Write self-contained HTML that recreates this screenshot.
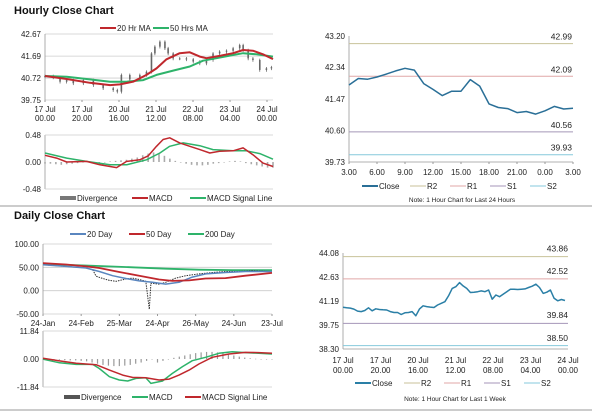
<!DOCTYPE html>
<html><head><meta charset="utf-8"><style>
body{margin:0;background:#fff;width:600px;height:413px;overflow:hidden}
svg{font-family:"Liberation Sans",sans-serif}
</style></head><body>
<svg id="s" width="600" height="413" viewBox="0 0 600 413" xmlns="http://www.w3.org/2000/svg">
<text x="14" y="14" font-size="11" font-weight="bold" fill="#111">Hourly Close Chart</text>
<text x="14" y="219" font-size="11" font-weight="bold" fill="#111">Daily Close Chart</text>
<line x1="0" y1="206" x2="592" y2="206" stroke="#999" stroke-width="1"/>
<line x1="0" y1="410" x2="592" y2="410" stroke="#999" stroke-width="1"/>
</svg>
<script>
// ---------- DATA ----------
const hcT=[0,3.6,6.6,9.5,12.4,16.8,21.2,25.5,29.9,31.7,33.5,37.2,41.6,44.5,46.7,48.2,50.4,52.6,54.0,56.2,59.1,62.0,65.0,67.9,70.8,73.7,76.6,79.6,82.5,85.4,86.9,89.1,91.2,94.2,97.1,99.3];
const hcV=[40.81,40.75,40.56,40.63,40.49,40.63,40.41,40.27,40.19,40.12,40.86,40.66,40.86,41.0,41.81,42.11,42.33,42.04,41.81,41.59,41.59,41.55,41.45,41.37,41.52,41.81,41.89,41.93,42.04,42.18,41.96,41.59,41.52,41.08,41.15,41.2];
const ma20T=[0,9.5,19.7,28.5,32.8,38.7,44.5,48.9,53.3,59.1,63.5,67.9,70.8,76.6,82.5,86.9,91.2,95.6,100];
const ma20V=[40.81,40.68,40.51,40.41,40.44,40.56,40.86,41.15,41.55,41.82,41.86,41.67,41.6,41.7,41.82,41.96,41.93,41.77,41.56];
const ma50T=[0,9.5,19.7,28.5,35.8,43.1,48.9,56.2,63.5,69.3,75.2,82.5,86.9,92.7,100];
const ma50V=[40.81,40.78,40.66,40.56,40.56,40.63,40.86,41.05,41.23,41.49,41.6,41.74,41.82,41.77,41.67];
const hmT=[0,5.1,9.5,18.2,24.1,31.4,35.8,41.6,45.3,48.9,51.8,54.7,59.1,63.5,67.9,72.3,76.6,82.5,86.9,91.2,95.6,100];
const hmV=[0.12,0.07,0.0,0.01,-0.05,-0.1,0.01,0.04,0.11,0.28,0.40,0.43,0.34,0.28,0.22,0.16,0.19,0.20,0.25,0.13,-0.02,-0.08];
const hsT=[0,9.5,18.2,28.5,35.8,44.5,50.4,54.7,60.6,67.9,73.7,82.5,88.3,94.2,100];
const hsV=[0.16,0.07,0.01,-0.05,-0.05,0.04,0.16,0.28,0.34,0.29,0.22,0.20,0.20,0.15,0.05];
const hDiv=[-0.03,-0.03,-0.04,-0.05,-0.04,-0.03,-0.02,-0.01,0,0,-0.01,0,0.01,0.02,0.03,0.04,0.06,0.08,0.12,0.15,0.17,0.15,0.11,0.06,0.02,-0.01,-0.03,-0.05,-0.06,-0.06,-0.05,-0.03,-0.02,0,0.01,0.02,0.01,-0.02,-0.04,-0.06,-0.08,-0.1,-0.1];
const dayLabels=["3.00","6.00","9.00","12.00","15.00","18.00","21.00","0.00","3.00"];
const closeV=[41.85,42.03,42.01,42.07,42.15,42.24,42.31,42.26,41.89,41.73,41.56,41.68,41.68,42.0,41.82,41.33,41.23,41.2,41.09,41.12,41.05,41.14,41.26,41.19,41.21];
const lvl24=[42.99,42.09,40.56,39.93];
const wkV=[40.81,40.78,40.76,40.7,40.58,40.55,40.62,40.78,40.6,40.72,40.68,40.66,40.65,40.55,40.5,40.5,40.38,40.48,40.5,40.55,40.3,40.7,40.9,40.85,40.82,40.8,40.95,41.05,41.15,41.5,41.95,42.05,42.3,42.1,41.95,41.7,41.72,41.75,41.8,41.75,41.85,41.3,41.55,41.45,41.6,41.75,41.9,41.9,41.88,41.9,41.92,42.0,42.08,42.2,42.0,41.65,41.72,41.85,41.35,41.2,41.28,41.22];
const lvlWk=[43.86,42.52,39.84,38.50];
const dcT=[0,10.1,18.8,21.7,23.2,26.1,29,31.9,36.2,39.1,42,44.9,46.4,47.1,50.7,53.6,58,62.3,68.1,73.9,79.7,85.5,91.3,98.6];
const dcV=[55.7,52,48.6,45,31,26,22,20,25,27,24,20,-40,16,14,18,27,32,36,39,41,41,43,41];
const d20T=[0,10.1,18.8,24.6,30.4,36.2,42,47.8,53.6,59.4,65.2,71,79.7,88.4,100];
const d20V=[55.7,52,48.6,41,32,26,21,18,14,18,29,36,39,41,41];
const d50T=[0,10.1,18.8,24.6,33.3,42,50.7,56.5,63.8,71,79.7,88.4,100];
const d50V=[59,56,52,48.6,40,32,24,21,22,26,27,32,38];
const d200T=[0,18.8,39.1,53.6,68.1,82.6,100];
const d200V=[57,54,50,47,45,44,44];
const dmT=[0,7.2,14.5,21.7,24.6,29,33.3,37,40.6,44.9,47.1,52.2,56.5,60.9,65.2,71,76.8,82.6,88.4,94.2,100];
const dmV=[-0.1,-1.6,-2.3,-2.3,-4,-7.5,-8.9,-9.3,-8.2,-7.9,-10.3,-9.3,-6.1,-3.2,-0.7,0.7,2.4,3.1,2.7,2.4,2.1];
const dsT=[0,7.2,14.5,23.2,29,34.8,39.1,44.9,50.7,55.1,59.4,63.8,68.1,73.9,81.2,88.4,94.2,100];
const dsV=[0.3,-0.8,-1.8,-2.4,-4.7,-6.8,-7.8,-7.9,-8.9,-8.5,-6.8,-4.7,-2.1,0.7,2.1,2.8,2.7,2.4];
const dDiv=[0,0,0,-0.3,-0.5,-0.6,-0.6,-0.8,-1,-1.5,-2,-2.5,-2.8,-3,-3,-2.8,-2.5,-2,-1.5,-0.8,0,-1.5,-0.8,0,0.5,1,1.5,2,2.5,2.8,3,3,2.8,2.5,2,1.5,1,0.6,0.3,0.1,0,0,0];

// ---------- DRAW ----------
const S=document.getElementById('s'),NS='http://www.w3.org/2000/svg';
function el(tag,a,parent){const e=document.createElementNS(NS,tag);for(const k in a)e.setAttribute(k,a[k]);(parent||S).appendChild(e);return e;}
function txt(x,y,s,a){const e=el('text',Object.assign({x:x,y:y,'font-size':8,fill:'#222'},a||{}));e.textContent=s;return e;}
function mkY(v0,y0,v1,y1){return v=>y0+(v-v0)*(y1-y0)/(v1-v0);}
function mkX(x0,x1){return t=>x0+t*(x1-x0)/100;}
function poly(T,V,X,Y,col,w,name,dash){const p=el('polyline',{points:T.map((t,i)=>X(t).toFixed(1)+','+Y(V[i]).toFixed(1)).join(' '),fill:'none',stroke:col,'stroke-width':w,'stroke-linejoin':'round'});if(dash)p.setAttribute('stroke-dasharray',dash);

return p;}
function yAxis(ticks,fmt,X0,X1,Y,grid,name){ticks.forEach(v=>{if(grid){const g=el('line',{x1:X0,x2:X1,y1:Y(v),y2:Y(v),stroke:'#ccc','stroke-width':0.8});

}
const t=txt(X0-4,Y(v)+3,fmt(v),{'text-anchor':'end'});

});
const a=el('line',{x1:X0,x2:X0,y1:Y(ticks[0]),y2:Y(ticks[ticks.length-1]),stroke:'#999','stroke-width':0.8});

}
function legend(items,y,name){items.forEach(it=>{el('line',{x1:it[0],x2:it[0]+16,y1:y-3,y2:y-3,stroke:it[2],'stroke-width':it[3]||2});const t=txt(it[0]+17,y,it[1],{'font-size':8});

});}
function bars(D,X,Y,col,w,name){D.forEach((d,i)=>{const t=i*100/(D.length-1);const y0=Y(0),y1=Y(d);const r=el('rect',{x:X(t)-w/2,y:Math.min(y0,y1),width:w,height:Math.max(0.5,Math.abs(y1-y0)),fill:col});

});}

// Panel 1
(function(){const X=mkX(45,273),Y=mkY(42.67,34,39.75,100);
legend([[100,'20 Hr MA','#c0282d'],[153,'50 Hrs MA','#2eb36a']],31,'hourly-legend-entry');
yAxis([42.67,41.69,40.72,39.75],v=>v.toFixed(2),45,273,Y,true,'hourly-price');
const xl=[['17 Jul','00.00'],['17 Jul','20.00'],['20 Jul','16.00'],['21 Jul','12.00'],['22 Jul','08.00'],['23 Jul','04.00'],['24 Jul','00.00']];
xl.forEach((l,i)=>{const x=45+i*(267-45)/6;el('line',{x1:x,x2:x,y1:100,y2:102,stroke:'#999'});const a=txt(x,112,l[0],{'text-anchor':'middle'});


const b=txt(x,121,l[1],{'text-anchor':'middle'});

});
hcV.forEach((v,i)=>{const x=X(hcT[i]);const prev=i?hcV[i-1]:v;const hi=Math.max(v,prev)+0.06,lo=Math.min(v,prev)-0.08;
const c=el('line',{x1:x,x2:x,y1:Y(hi),y2:Y(lo),stroke:'#555','stroke-width':0.7});


const b=el('rect',{x:x-0.8,y:Math.min(Y(v),Y(prev)),width:1.6,height:Math.max(1,Math.abs(Y(v)-Y(prev))),fill:'#666'});

});
poly(ma50T,ma50V,X,Y,'#2eb36a',2,'ma50-line');poly(ma20T,ma20V,X,Y,'#c0282d',2,'ma20-line');
const Ym=mkY(0.48,135,-0.48,189);
yAxis([0.48,0,-0.48],v=>v.toFixed(2),45,273,Ym,false,'hourly-macd');
[0.48,-0.48].forEach(v=>el('line',{x1:45,x2:273,y1:Ym(v),y2:Ym(v),stroke:'#ccc','stroke-width':0.8}));
bars(hDiv,X,Ym,'#aaa',1.6,'hourly-divergence-bar');
poly(hsT,hsV,X,Ym,'#2eb36a',1.5,'hourly-signal-line');poly(hmT,hmV,X,Ym,'#c0282d',1.5,'hourly-macd-line');
legend([[60,'Divergence','#777',4],[132,'MACD','#c0282d'],[190,'MACD Signal Line','#2eb36a']],201,'hourly-macd-legend-entry');})();

// Panel 2
(function(){const X=mkX(349,573),Y=mkY(43.20,36,39.73,162);const cols=['#c8c29a','#e0a7a7','#a596b8','#86c9dc'];
yAxis([43.20,42.34,41.47,40.60,39.73],v=>v.toFixed(2),349,573,Y,false,'close24-y');
el('line',{x1:349,x2:573,y1:162,y2:162,stroke:'#999','stroke-width':0.8});
lvl24.forEach((v,i)=>{const l=el('line',{x1:349,x2:573,y1:Y(v),y2:Y(v),stroke:cols[i],'stroke-width':1});


const t=txt(572,Y(v)-4,v.toFixed(2),{'text-anchor':'end','font-size':8.5});

});
dayLabels.forEach((l,i)=>{const x=349+i*28;el('line',{x1:x,x2:x,y1:162,y2:164,stroke:'#999'});const t=txt(x,175,l,{'text-anchor':'middle'});

});
poly(closeV.map((v,i)=>i*100/(closeV.length-1)),closeV,X,Y,'#2a6f97',1.5,'close24-line');
legend([[362,'Close','#2a6f97'],[410,'R2',cols[0],1],[450,'R1',cols[1],1],[490,'S1',cols[2],1],[530,'S2',cols[3],1]],189,'close24-legend-entry');
const n=txt(462,202,'Note: 1 Hour Chart for Last 24 Hours',{'text-anchor':'middle','font-size':6.5});

})();

// Panel 3
(function(){const X=mkX(43,272),Y=mkY(100,244,-50,314);
legend([[70,'20 Day','#5a86bf'],[129,'50 Day','#c0282d'],[188,'200 Day','#2eb36a']],237,'daily-legend-entry');
yAxis([100,50,0,-50],v=>v.toFixed(2),43,272,Y,true,'daily-price');
['24-Jan','24-Feb','25-Mar','24-Apr','26-May','24-Jun','23-Jul'].forEach((l,i)=>{const x=43+i*(272-43)/6;el('line',{x1:x,x2:x,y1:314,y2:316,stroke:'#999'});const t=txt(x,326,l,{'text-anchor':'middle'});

});
poly(d200T,d200V,X,Y,'#2eb36a',1.8,'daily-200-line');
poly(dcT,dcV,X,Y,'#333',1,'daily-close-line','1.5,1');
poly(d20T,d20V,X,Y,'#5a86bf',1.5,'daily-20-line');
poly(d50T,d50V,X,Y,'#c0282d',1.8,'daily-50-line');
const Ym=mkY(11.84,331,-11.84,387);
yAxis([11.84,0,-11.84],v=>v.toFixed(2),43,272,Ym,false,'daily-macd');
[11.84,-11.84].forEach(v=>el('line',{x1:43,x2:272,y1:Ym(v),y2:Ym(v),stroke:'#ccc','stroke-width':0.8}));
bars(dDiv,X,Ym,'#999',1.2,'daily-divergence-bar');
poly(dmT,dmV,X,Ym,'#2eb36a',1.5,'daily-macd-line');poly(dsT,dsV,X,Ym,'#c0282d',1.5,'daily-signal-line');
legend([[64,'Divergence','#555',4],[132,'MACD','#2eb36a'],[185,'MACD Signal Line','#c0282d']],400,'daily-macd-legend-entry');})();

// Panel 4
(function(){const X=mkX(343,565),Y=mkY(44.08,253,38.30,349);const cols=['#c8c29a','#e0a7a7','#a596b8','#86c9dc'];
yAxis([44.08,42.63,41.19,39.75,38.30],v=>v.toFixed(2),343,568,Y,false,'week-y');
el('line',{x1:343,x2:568,y1:349,y2:349,stroke:'#999','stroke-width':0.8});
lvlWk.forEach((v,i)=>{const l=el('line',{x1:343,x2:568,y1:Y(v),y2:Y(v),stroke:cols[i],'stroke-width':1});


const ly=i<2?Y(v)-5:Y(v)-10;
const t=txt(568,i<2?ly:(i==2?318:341),v.toFixed(2),{'text-anchor':'end','font-size':8.5});

});
[['17 Jul','00.00'],['17 Jul','20.00'],['20 Jul','16.00'],['21 Jul','12.00'],['22 Jul','08.00'],['23 Jul','04.00'],['24 Jul','00.00']].forEach((l,i)=>{const x=343+i*37.5;const a=txt(x,363,l[0],{'text-anchor':'middle'});


const b=txt(x,373,l[1],{'text-anchor':'middle'});

});
poly(wkV.map((v,i)=>i*100/(wkV.length-1)),wkV,X,Y,'#2a7fa6',1.5,'week-close-line');
legend([[355,'Close','#2a7fa6'],[404,'R2',cols[0],1],[444,'R1',cols[1],1],[484,'S1',cols[2],1],[524,'S2',cols[3],1]],386,'week-legend-entry');
const n=txt(455,401,'Note: 1 Hour Chart for Last 1 Week',{'text-anchor':'middle','font-size':6.5});

})();
</script>
</body></html>
